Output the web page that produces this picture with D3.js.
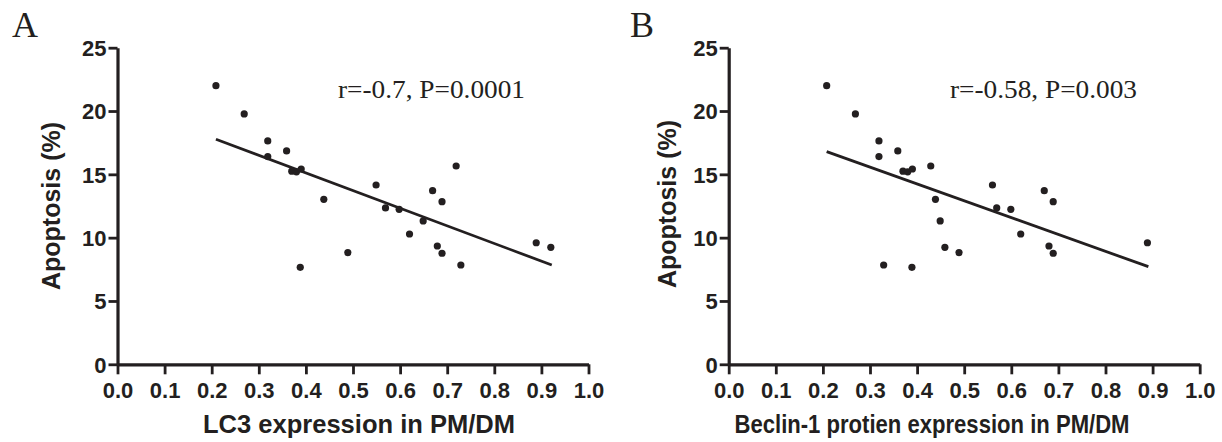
<!DOCTYPE html>
<html>
<head>
<meta charset="utf-8">
<script src="https://cdn.jsdelivr.net/npm/d3@7"></script>
<style>
  html, body { margin: 0; padding: 0; background: #fff; }
  svg { display: block; }
</style>
</head>
<body>
<svg id="chart" width="1222" height="442"></svg>
<script>
// ---- Data ----
const xTicks = [0.0, 0.1, 0.2, 0.3, 0.4, 0.5, 0.6, 0.7, 0.8, 0.9, 1.0];
const yTicks = [0, 5, 10, 15, 20, 25];

const apoptosis = [22.0, 19.77, 17.64, 16.85, 16.40, 15.25, 15.2, 15.42, 15.66, 13.03, 14.16, 12.35, 12.24, 13.71, 12.84, 11.32, 10.29, 9.34, 8.77, 7.84, 8.82, 7.66, 9.60, 9.24];
const lc3 =       [0.209, 0.269, 0.319, 0.359, 0.319, 0.37, 0.38, 0.39, 0.719, 0.438, 0.549, 0.569, 0.598, 0.669, 0.689, 0.649, 0.620, 0.679, 0.689, 0.729, 0.489, 0.388, 0.889, 0.920];

const apoptosisB = [22.0, 19.77, 17.64, 16.85, 16.40, 15.25, 15.2, 15.42, 15.66, 13.03, 14.16, 12.35, 12.24, 13.71, 12.84, 11.32, 10.29, 9.34, 8.77, 7.84, 9.24, 8.82, 7.66, 9.60];
const beclin =     [0.208, 0.269, 0.319, 0.359, 0.319, 0.37, 0.38, 0.39, 0.429, 0.439, 0.560, 0.569, 0.599, 0.670, 0.689, 0.449, 0.620, 0.680, 0.689, 0.329, 0.459, 0.489, 0.389, 0.889];

const fitA = [[0.209, 17.77], [0.922, 7.84]];
const fitB = [[0.208, 16.79], [0.891, 7.71]];

const panels = [
  { label: "A", xs: lc3, ys: apoptosis, fit: fitA, xTitle: "LC3 expression in PM/DM", note: "r=-0.7, P=0.0001" },
  { label: "B", xs: beclin, ys: apoptosisB, fit: fitB, xTitle: "Beclin-1 protien expression in PM/DM", note: "r=-0.58, P=0.003" }
];

// ---- Layout ----
const layout = [
  { x0: 117.5, x1: 588.5, labelX: 12, yTitleX: 60, yTitleY: 206, noteX: 338, titleX: 359, titleSize: 25, titleLen: 312 },
  { x0: 728.7, x1: 1199.7, labelX: 630, yTitleX: 676, yTitleY: 204, noteX: 950, titleX: 932, titleSize: 25, titleLen: 395 }
];
const yTop = 47.7, yBot = 364.3;
const ink = "#231f20";
const sans = "'Liberation Sans', Arial, sans-serif";
const serif = "'Liberation Serif', 'Times New Roman', serif";

const svg = d3.select("#chart");

panels.forEach((p, i) => {
  const L = layout[i];
  const x = d3.scaleLinear().domain([0, 1]).range([L.x0, L.x1]);
  const y = d3.scaleLinear().domain([0, 25]).range([yBot, yTop]);
  const g = svg.append("g");

  // axes
  const xAxis = d3.axisBottom(x).tickValues(xTicks).tickFormat(d3.format(".1f")).tickSize(10).tickPadding(8).tickSizeOuter(0);
  const yAxis = d3.axisLeft(y).tickValues(yTicks).tickFormat(d3.format("d")).tickSize(9).tickPadding(2).tickSizeOuter(0);

  const gx = g.append("g").attr("transform", `translate(0,${yBot})`).call(xAxis);
  const gy = g.append("g").attr("transform", `translate(${L.x0},0)`).call(yAxis);
  [gx, gy].forEach(a => {
    a.select(".domain").attr("stroke", ink).attr("stroke-width", 3.2);
    a.selectAll(".tick line").attr("stroke", ink).attr("stroke-width", 2.8);
    a.selectAll(".tick text")
      .style("font-family", sans).style("font-weight", "bold").style("font-size", "22px")
      .attr("fill", ink);
  });
  gx.selectAll(".tick text").attr("dy", "0.71em");
  gy.selectAll(".tick text").attr("dy", "0.36em");

  // regression line
  const line = d3.line().x(d => x(d[0])).y(d => y(d[1]));
  g.append("path").datum(p.fit).attr("d", line)
    .attr("fill", "none").attr("stroke", ink).attr("stroke-width", 2.8);

  // points
  g.selectAll("circle.pt").data(p.xs.map((v, k) => [v, p.ys[k]])).enter()
    .append("circle").attr("class", "pt")
    .attr("cx", d => x(d[0])).attr("cy", d => y(d[1])).attr("r", 3.6)
    .attr("fill", ink);

  // titles
  g.append("text").attr("x", L.titleX).attr("y", 433)
    .attr("text-anchor", "middle")
    .attr("textLength", L.titleLen).attr("lengthAdjust", "spacingAndGlyphs")
    .style("font-family", sans).style("font-weight", "bold").style("font-size", L.titleSize + "px")
    .attr("fill", ink).text(p.xTitle);

  g.append("text").attr("transform", `translate(${L.yTitleX},${L.yTitleY}) rotate(-90)`)
    .attr("text-anchor", "middle")
    .style("font-family", sans).style("font-weight", "bold").style("font-size", "25px")
    .attr("fill", ink).text("Apoptosis (%)");

  // panel label
  g.append("text").attr("x", L.labelX).attr("y", 37)
    .style("font-family", serif).style("font-size", "36px")
    .attr("fill", ink).text(p.label);

  // annotation
  g.append("text").attr("x", L.noteX).attr("y", 98)
    .style("font-family", serif).style("font-size", "25px")
    .attr("textLength", 187).attr("lengthAdjust", "spacingAndGlyphs")
    .attr("fill", ink).text(p.note);
});
</script>
</body>
</html>
